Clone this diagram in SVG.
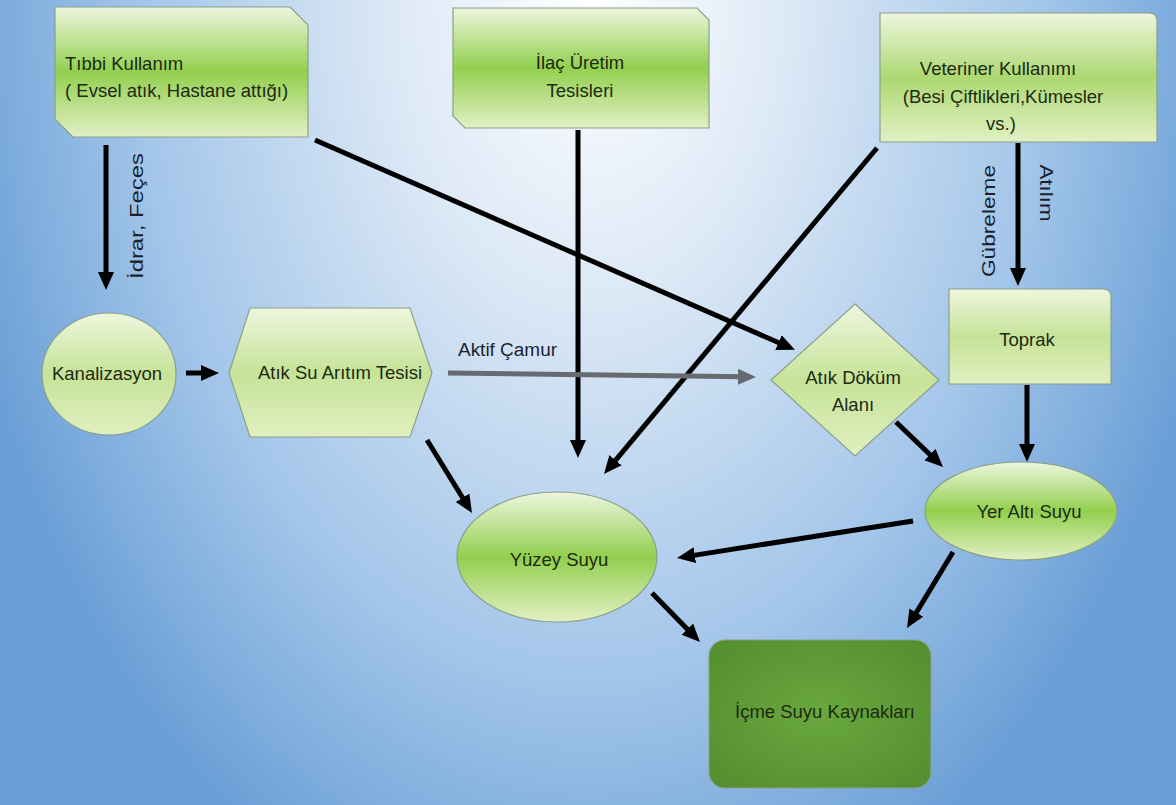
<svg xmlns="http://www.w3.org/2000/svg" width="1176" height="805" viewBox="0 0 1176 805">
<defs>
<radialGradient id="bg" gradientUnits="userSpaceOnUse" cx="590" cy="0" r="650" gradientTransform="translate(590 0) scale(1 1.5) translate(-590 0)">
<stop offset="0" stop-color="#ffffff"/>
<stop offset="0.3" stop-color="#dde9f6"/>
<stop offset="0.7" stop-color="#a2c5e9"/>
<stop offset="1" stop-color="#6a9fd6"/>
</radialGradient>
<linearGradient id="g1" x1="0" y1="0" x2="0" y2="1">
<stop offset="0" stop-color="#eef6de"/>
<stop offset="0.5" stop-color="#92cf4e"/>
<stop offset="1" stop-color="#e2f0c4"/>
</linearGradient>
<linearGradient id="g2" x1="0" y1="0" x2="0" y2="1">
<stop offset="0" stop-color="#eef6de"/>
<stop offset="0.5" stop-color="#c6e398"/>
<stop offset="1" stop-color="#e0efc0"/>
</linearGradient>
<linearGradient id="g3" x1="0" y1="0" x2="0" y2="1">
<stop offset="0" stop-color="#eef6de"/>
<stop offset="0.5" stop-color="#acd872"/>
<stop offset="1" stop-color="#e2f0c4"/>
</linearGradient>
<radialGradient id="g4" cx="0.5" cy="0.5" r="0.65">
<stop offset="0" stop-color="#6aa83e"/>
<stop offset="1" stop-color="#548f30"/>
</radialGradient>
<marker id="ah" markerUnits="userSpaceOnUse" markerWidth="20" markerHeight="18" refX="6" refY="8" orient="auto">
<path d="M0,0 L18,8 L0,16 Z" fill="#000"/>
</marker>
<marker id="ahg" markerUnits="userSpaceOnUse" markerWidth="20" markerHeight="18" refX="6" refY="8" orient="auto">
<path d="M0,0 L18,8 L0,16 Z" fill="#676b70"/>
</marker>
<style>
.nd{stroke:#8aa08a;stroke-width:1.2}
.t{font-family:"Liberation Sans",Arial,sans-serif;font-size:18.5px;fill:#1c2a12}
.lb{font-family:"Liberation Sans",Arial,sans-serif;font-size:18px;fill:#1b1f2c}
.c{stroke:#000;stroke-width:5;fill:none;marker-end:url(#ah)}
.cg{stroke:#676b70;stroke-width:5;fill:none;marker-end:url(#ahg)}
</style>
</defs>
<rect x="0" y="0" width="1176" height="805" fill="url(#bg)"/>

<g id="connectors">
<line class="c" x1="106" y1="145" x2="106" y2="278"/>
<line class="c" x1="315" y1="140" x2="784" y2="345"/>
<line class="c" x1="578" y1="130" x2="578" y2="446"/>
<line class="c" x1="877" y1="148" x2="611.7" y2="464.8"/>
<line class="c" x1="1018" y1="143" x2="1018" y2="274"/>
<line class="c" x1="186" y1="373" x2="207" y2="373"/>
<line class="cg" x1="448" y1="373" x2="744" y2="376.8"/>
<line class="c" x1="427" y1="440" x2="465.7" y2="502.8"/>
<line class="c" x1="896" y1="422" x2="934.3" y2="458.7"/>
<line class="c" x1="1027" y1="385" x2="1027" y2="450"/>
<line class="c" x1="913" y1="521" x2="688.9" y2="556.1"/>
<line class="c" x1="953" y1="552" x2="913.2" y2="617.7"/>
<line class="c" x1="652" y1="593" x2="691.6" y2="633.4"/>
<text class="lb" transform="translate(143 216) rotate(-90)" text-anchor="middle" textLength="126" lengthAdjust="spacingAndGlyphs">İdrar, Feçes</text>
<text class="lb" transform="translate(995 221) rotate(-90)" text-anchor="middle" textLength="112" lengthAdjust="spacingAndGlyphs">Gübreleme</text>
<text class="lb" transform="translate(1040 193) rotate(90)" text-anchor="middle" textLength="57" lengthAdjust="spacingAndGlyphs">Atılım</text>
<text class="lb" x="458" y="356" textLength="99" lengthAdjust="spacingAndGlyphs">Aktif Çamur</text>
</g>

<g id="tibbi">
<path class="nd" d="M55,7 H290 L308,25 V137 H73 L55,119 Z" fill="url(#g1)"/>
<text class="t" x="65" y="70">Tıbbi Kullanım</text>
<text class="t" x="65" y="97">( Evsel atık, Hastane attığı)</text>
</g>

<g id="ilac">
<path class="nd" d="M453,8 H697 L709,20 V128 H465 L453,116 Z" fill="url(#g1)"/>
<text class="t" x="580" y="69" text-anchor="middle">İlaç Üretim</text>
<text class="t" x="580" y="97" text-anchor="middle">Tesisleri</text>
</g>

<g id="veteriner">
<path class="nd" d="M880,13 H1149 Q1157,13 1157,21 V142 H880 Z" fill="url(#g3)"/>
<text class="t" x="998" y="75" text-anchor="middle">Veteriner Kullanımı</text>
<text class="t" x="1003" y="103" text-anchor="middle">(Besi Çiftlikleri,Kümesler</text>
<text class="t" x="1001" y="130" text-anchor="middle">vs.)</text>
</g>

<g id="kanalizasyon">
<ellipse class="nd" cx="109" cy="374" rx="67" ry="61" fill="url(#g2)"/>
<text class="t" x="107" y="380" text-anchor="middle">Kanalizasyon</text>
</g>

<g id="aritim">
<path class="nd" d="M229,373 L250,308 H410 L432,373 L410,437 H250 Z" fill="url(#g2)"/>
<text class="t" x="340" y="379" text-anchor="middle">Atık Su Arıtım Tesisi</text>
</g>

<g id="dokum">
<path class="nd" d="M855,304 L939,380 L855,456 L771,380 Z" fill="url(#g2)"/>
<text class="t" x="853" y="384" text-anchor="middle">Atık Döküm</text>
<text class="t" x="853" y="411" text-anchor="middle">Alanı</text>
</g>

<g id="toprak">
<path class="nd" d="M949,289 H1103 Q1111,289 1111,297 V384 H949 Z" fill="url(#g2)"/>
<text class="t" x="1027" y="346" text-anchor="middle">Toprak</text>
</g>

<g id="yeralti">
<ellipse class="nd" cx="1021" cy="511" rx="96" ry="49" fill="url(#g1)"/>
<text class="t" x="1029" y="518" text-anchor="middle">Yer Altı Suyu</text>
</g>

<g id="yuzey">
<ellipse class="nd" cx="557" cy="557" rx="100" ry="65" fill="url(#g1)"/>
<text class="t" x="559" y="566" text-anchor="middle">Yüzey Suyu</text>
</g>

<g id="icme">
<rect class="nd" x="709" y="640" width="222" height="148" rx="16" fill="url(#g4)" stroke="#4a7a30"/>
<text class="t" x="825" y="718" text-anchor="middle">İçme Suyu Kaynakları</text>
</g>
</svg>
